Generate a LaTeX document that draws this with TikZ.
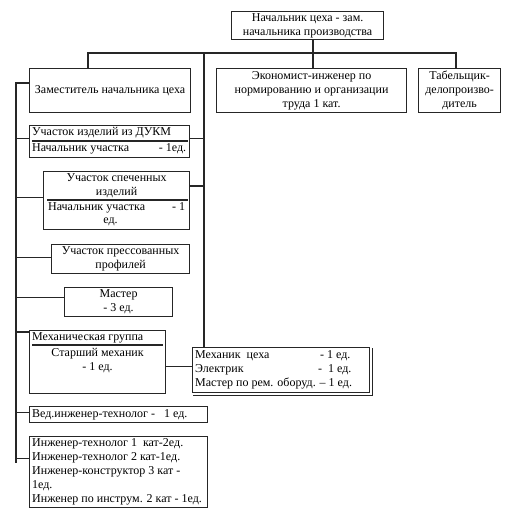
\documentclass[tikz,border=0pt]{standalone}
\usepackage{fontspec}
\setmainfont{Liberation Serif}
\begin{document}
\begin{tikzpicture}[x=1bp,y=-1bp,
  box/.style={draw=black!85, line width=1.2bp, inner sep=0pt, anchor=north west, align=center, font=\fs},
  txt/.style={inner sep=0pt, font=\fs},
  ln/.style={draw=black!85, line width=1.2bp}]
\providecommand\fs{\fontsize{12bp}{14bp}\selectfont}
\useasboundingbox[fill=white] (0,0) rectangle (517,515);
% boxes
\node[box, minimum width=152bp, minimum height=28bp] (top) at (231,11) {Начальник цеха - зам.\\начальника производства};
\node[box, minimum width=190bp, minimum height=44bp] (econ) at (216,68) {Экономист-инженер по\\нормированию и организации\\труда 1 кат.};
\node[box, minimum width=82bp, minimum height=44bp] (tab) at (418,68) {Табельщик-\\делопроизво-\\дитель};
\node[box, minimum width=161bp, minimum height=44bp] (zam) at (29,68) {Заместитель начальника цеха};
\node[box, minimum width=160bp, minimum height=32bp] (dukm) at (29,125) {};
\node[box, minimum width=146bp, minimum height=58bp] (spec) at (43,171) {};
\node[box, minimum width=138bp, minimum height=29bp] (press) at (51,244) {Участок прессованных\\профилей};
\node[box, minimum width=108bp, minimum height=29bp] (master) at (64,287) {Мастер\\- 3 ед.};
\node[box, minimum width=136bp, minimum height=63bp] (mg) at (29,330) {};
\node[box, minimum width=177bp, minimum height=45bp] (mech) at (192,347) {};
\node[box, minimum width=178bp, minimum height=16bp] (ved) at (29,406) {};
\node[box, minimum width=178bp, minimum height=71bp] (eng) at (29,436) {};
% box contents
\node[txt, anchor=west] (dukmA) at ([shift={(3bp,-8bp)}]dukm.north west) {Участок изделий из ДУКМ};
\node[txt, anchor=west] (dukmB) at ([shift={(3bp,-24bp)}]dukm.north west) {\makebox[154bp][l]{Начальник участка\hfill- 1ед.}};
\draw[ln] ([shift={(3bp,-16bp)}]dukm.north west) -- ([shift={(-2bp,-16bp)}]dukm.north east);
\node[txt, align=center] (specA) at ([shift={(0bp,-14.5bp)}]spec.north) {Участок спеченных\\изделий};
\draw[ln] ([shift={(4bp,-29bp)}]spec.north west) -- ([shift={(-2bp,-29bp)}]spec.north east);
\node[txt, anchor=west] (specB) at ([shift={(5bp,-37bp)}]spec.north west) {\makebox[137bp][l]{Начальник участка\hfill- 1}};
\node[txt] (specC) at ([shift={(-6bp,-51bp)}]spec.north) {ед.};
\node[txt, anchor=west] (mgA) at ([shift={(3bp,-8bp)}]mg.north west) {Механическая группа};
\draw[ln] ([shift={(3bp,-15bp)}]mg.north west) -- ([shift={(-3bp,-15bp)}]mg.north east);
\node[txt, align=center] (mgB) at ([shift={(0bp,-31bp)}]mg.north) {Старший механик\\- 1 ед.};
\node[txt, anchor=west, align=left] (mechT) at ([xshift=3bp]mech.west) {\makebox[125bp][l]{Механик\ \ цеха}- 1 ед.\\\makebox[123bp][l]{Электрик}-\ \ 1 ед.\\Мастер по рем. оборуд. – 1 ед.};
\draw[ln] ([shift={(1bp,-2bp)}]mech.south west) -- ([shift={(2bp,-2bp)}]mech.south east) -- ([shift={(2bp,-1bp)}]mech.north east);
\node[txt, anchor=west] (vedT) at ([xshift=3bp]ved.west) {Вед.инженер-технолог -\ \ \ 1 ед.};
\node[txt, anchor=west, align=left] (engT) at ([xshift=3bp]eng.west) {Инженер-технолог 1\ \ кат-2ед.\\Инженер-технолог 2 кат-1ед.\\Инженер-конструктор 3 кат -\\1ед.\\Инженер по инструм. 2 кат - 1ед.};
% connectors
\coordinate (hL) at (88,53);
\coordinate (hC) at (313,53);
\coordinate (hM) at (204,53);
\coordinate (hR) at (456,53);
\coordinate (vT) at (16,83);
\coordinate (vB) at (16,463);
\draw[ln] (hC |- top.south) -- (hC |- econ.north);
\draw[ln] (hL |- zam.north) -- (hL) -- (hR) -- (hR |- tab.north);
\draw[ln] (hM) -- (hM |- mech.north);
\draw[ln] (zam.west |- vT) -- (vT) -- (vB);
\coordinate (s1) at ([yshift=3bp]dukm.west);
\coordinate (s2) at ([yshift=3bp]spec.west);
\coordinate (s3) at ([yshift=2bp]press.west);
\coordinate (s4) at ([yshift=4.5bp]master.west);
\coordinate (s5) at ([yshift=-2bp]mg.north west);
\coordinate (s6) at ([yshift=2.5bp]ved.west);
\coordinate (s7) at ([yshift=13.5bp]eng.west);
\foreach \s in {s1,s2,s3,s4,s5,s6,s7} \draw[ln] (vT |- \s) -- (\s);
\coordinate (r1) at ([yshift=3bp]dukm.east);
\coordinate (r2) at ([yshift=-15bp]spec.north east);
\draw[ln] (r1) -- (hM |- r1);
\draw[ln] (r2) -- (hM |- r2);
\coordinate (m1) at ([yshift=4bp]mech.west);
\draw[ln] (mg.east |- m1) -- (m1);
\end{tikzpicture}
\end{document}
